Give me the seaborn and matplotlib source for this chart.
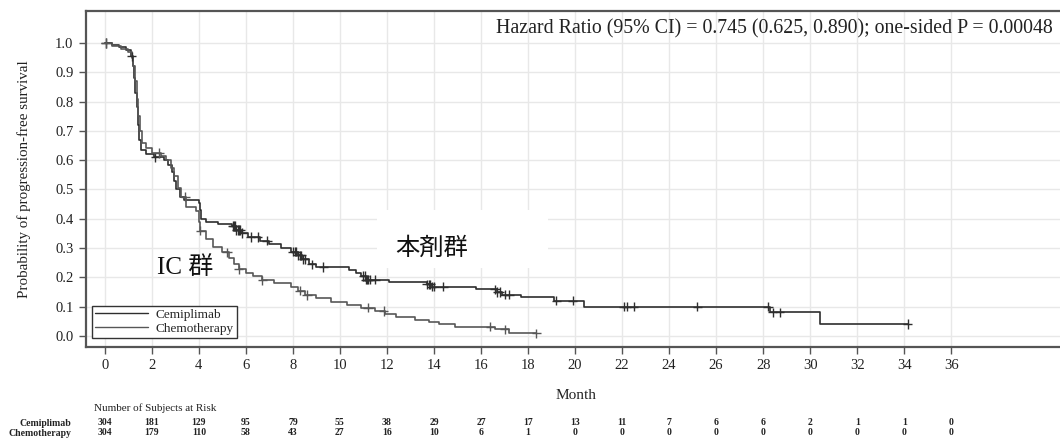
import numpy as np
import pandas as pd
import matplotlib
matplotlib.use("Agg")
import matplotlib.pyplot as plt
from matplotlib.patches import Rectangle
from matplotlib.transforms import blended_transform_factory
import seaborn as sns

# ---------------- data ----------------
groups = ["Cemiplimab", "Chemotherapy"]

cemi_t = [0, 0.3, 0.6, 0.9, 1.1, 1.2, 1.25, 1.3, 1.35, 1.4, 1.45, 1.55, 1.75, 2.1, 2.5, 2.7,
          2.85, 2.95, 3.05, 3.2, 3.35, 4.0, 4.05, 4.1, 4.3, 4.8, 5.4, 5.6, 5.8, 6.1, 6.6, 7.0,
          7.5, 7.9, 8.2, 8.4, 8.7, 9.0, 10.4, 10.7, 10.9, 11.1, 12.1, 13.7, 13.9, 15.8, 16.7,
          16.9, 17.7, 19.1, 20.4, 28.3, 30.4, 34.15]
cemi_s = [1.0, 0.993, 0.985, 0.975, 0.955, 0.92, 0.88, 0.83, 0.78, 0.72, 0.67, 0.635, 0.62,
          0.61, 0.60, 0.585, 0.56, 0.53, 0.50, 0.475, 0.465, 0.455, 0.43, 0.40, 0.388, 0.382,
          0.375, 0.362, 0.352, 0.338, 0.325, 0.315, 0.302, 0.288, 0.275, 0.262, 0.245, 0.235,
          0.225, 0.215, 0.205, 0.192, 0.185, 0.176, 0.168, 0.159, 0.150, 0.141, 0.132, 0.121,
          0.100, 0.081, 0.041, 0.041]
cemi_cens = [0.05, 1.15, 2.15, 5.45, 5.5, 5.55, 5.6, 5.65, 5.7, 5.75, 5.85, 6.2, 6.5, 6.9,
             8.0, 8.1, 8.15, 8.2, 8.3, 8.35, 8.45, 8.5, 8.8, 9.3, 11.0, 11.05, 11.1, 11.15,
             11.2, 11.3, 11.5, 13.7, 13.8, 13.85, 13.9, 14.0, 14.4, 16.6, 16.7, 16.8, 17.0,
             17.2, 19.2, 19.9, 22.07, 22.2, 22.5, 25.2, 28.2, 28.4, 28.7, 34.15]

chemo_t = [0, 0.3, 0.7, 1.0, 1.15, 1.2, 1.28, 1.35, 1.42, 1.5, 1.6, 1.75, 2.0, 2.4, 2.6, 2.8,
           2.95, 3.1, 3.25, 3.45, 3.9, 4.0, 4.07, 4.3, 4.6, 5.0, 5.3, 5.5, 5.7, 6.0, 6.3, 6.7,
           7.2, 7.9, 8.2, 8.5, 9.0, 9.6, 10.3, 10.9, 11.5, 11.9, 12.4, 13.2, 13.8, 14.2, 14.9,
           16.6, 17.2, 18.35]
chemo_s = [1.0, 0.99, 0.98, 0.97, 0.95, 0.92, 0.87, 0.81, 0.75, 0.70, 0.66, 0.64, 0.625,
           0.615, 0.60, 0.575, 0.545, 0.505, 0.475, 0.44, 0.425, 0.39, 0.36, 0.33, 0.305,
           0.285, 0.265, 0.245, 0.228, 0.215, 0.205, 0.19, 0.18, 0.168, 0.155, 0.14, 0.128,
           0.115, 0.105, 0.097, 0.085, 0.075, 0.066, 0.056, 0.048, 0.041, 0.032, 0.023, 0.009,
           0.009]
chemo_cens = [0.05, 2.3, 3.43, 4.07, 5.2, 5.7, 6.7, 8.3, 8.6, 11.2, 11.86, 16.4, 17.0, 18.35]

risk_months = list(range(0, 37, 2))
risk_cemi = [304, 181, 129, 95, 79, 55, 38, 29, 27, 17, 13, 11, 7, 6, 6, 2, 1, 1, 0]
risk_chemo = [304, 179, 110, 58, 43, 27, 16, 10, 6, 1, 0, 0, 0, 0, 0, 0, 0, 0, 0]

hr_text = "Hazard Ratio (95% CI) = 0.745 (0.625, 0.890); one-sided P = 0.00048"
label_cemi_jp = "本剤群"
label_chemo_jp = "IC 群"

# ---------------- frames ----------------
def surv_at(ts, ss, tc):
    ts = np.asarray(ts); ss = np.asarray(ss)
    idx = np.searchsorted(ts, tc, side="right") - 1
    return ss[idx]

curve_df = pd.concat([
    pd.DataFrame({"time": cemi_t, "surv": cemi_s, "group": groups[0]}),
    pd.DataFrame({"time": chemo_t, "surv": chemo_s, "group": groups[1]}),
], ignore_index=True)
cens_df = pd.concat([
    pd.DataFrame({"time": cemi_cens, "surv": surv_at(cemi_t, cemi_s, cemi_cens), "group": groups[0]}),
    pd.DataFrame({"time": chemo_cens, "surv": surv_at(chemo_t, chemo_s, chemo_cens), "group": groups[1]}),
], ignore_index=True)

# ---------------- style ----------------
sns.set_style("white")
plt.rcParams["font.family"] = ["Liberation Serif", "Noto Sans CJK JP"]

palette = {groups[0]: "#2e2e2e", groups[1]: "#575757"}
spine_c = "#555555"

fig = plt.figure(figsize=(10.6, 4.38), dpi=100)
ax = fig.add_axes([0.0811, 0.2078, 0.925, 0.767])

sns.lineplot(data=curve_df, x="time", y="surv", hue="group", palette=palette,
             drawstyle="steps-post", estimator=None, sort=False, linewidth=1.2,
             ax=ax, zorder=4)
sns.scatterplot(data=cens_df, x="time", y="surv", hue="group", palette=palette,
                marker="+", s=45, linewidth=1.0, ax=ax, legend=False, zorder=5)

ax.set_xlim(-0.8, 40.9)
ax.set_ylim(-0.0375, 1.109)
ax.set_xticks(risk_months)
ax.set_xticklabels([str(m) for m in risk_months])
ax.set_yticks(np.round(np.arange(0, 1.01, 0.1), 1))
ax.set_yticklabels([f"{v:.1f}" for v in np.arange(0, 1.01, 0.1)])
ax.set_yticks(np.arange(0.05, 1.0, 0.1), minor=True)
ax.grid(True, which="major", color="#e8e8e8", linewidth=1.0, zorder=0)
ax.set_axisbelow(True)

for side in ["left", "bottom", "top"]:
    ax.spines[side].set_visible(True)
    ax.spines[side].set_color(spine_c)
    ax.spines[side].set_linewidth(1.6)
ax.spines["right"].set_visible(False)

ax.tick_params(axis="both", which="major", direction="out", length=5, width=1.0,
               color=spine_c, labelsize=10.5, labelcolor="#222222", pad=4)
ax.tick_params(axis="y", which="minor", direction="out", length=3, width=0.8, color=spine_c)
ax.tick_params(left=True, bottom=True)

ax.set_xlabel("Month", fontsize=11, color="#222222", labelpad=12)
ax.set_ylabel("Probability of progression-free survival", fontsize=10.8,
              color="#222222", labelpad=17)

# white box behind the JP label
ax.add_patch(Rectangle((11.57, 0.232), 7.3, 0.198, facecolor="white",
                       edgecolor="none", zorder=2))
ax.text(13.9, 0.30, label_cemi_jp, fontsize=17.5, ha="center", va="center",
        family=["Noto Sans CJK JP"], color="#111111", zorder=6)
ax.text(3.43, 0.235, label_chemo_jp, fontsize=18, ha="center", va="center",
        family=["Liberation Serif", "Noto Sans CJK JP"], color="#111111", zorder=6)

ax.text(0.986, 0.977, hr_text, transform=ax.transAxes, ha="right", va="top",
        fontsize=14.3, color="#222222")

leg = ax.legend(loc="lower left", bbox_to_anchor=(0.006, 0.027), borderaxespad=0,
                fontsize=9.5, frameon=True, fancybox=False, framealpha=1,
                edgecolor="#333333", handlelength=4.0, handletextpad=0.6,
                labelspacing=0.1, borderpad=0.25, title=None)
leg.get_frame().set_linewidth(1.0)
for line in leg.get_lines():
    line.set_linewidth(1.0)

# risk table
tr = blended_transform_factory(ax.transData, ax.transAxes)
ax.text(-0.45, -0.1815, "Number of Subjects at Risk", transform=tr, ha="left",
        va="center", fontsize=8, color="#222222")
for m, a, b in zip(risk_months, risk_cemi, risk_chemo):
    ax.text(m, -0.226, str(a), transform=tr, ha="center", va="center", fontsize=7,
            color="#222222", fontweight="bold")
    ax.text(m, -0.256, str(b), transform=tr, ha="center", va="center", fontsize=7,
            color="#222222", fontweight="bold")
fig.text(71 / 1060, 1 - 423 / 438, groups[0], ha="right", va="center", fontsize=7,
         color="#222222", fontweight="bold")
fig.text(71 / 1060, 1 - 433 / 438, groups[1], ha="right", va="center", fontsize=7,
         color="#222222", fontweight="bold")

fig.savefig("out.png", dpi=100, facecolor="white")
